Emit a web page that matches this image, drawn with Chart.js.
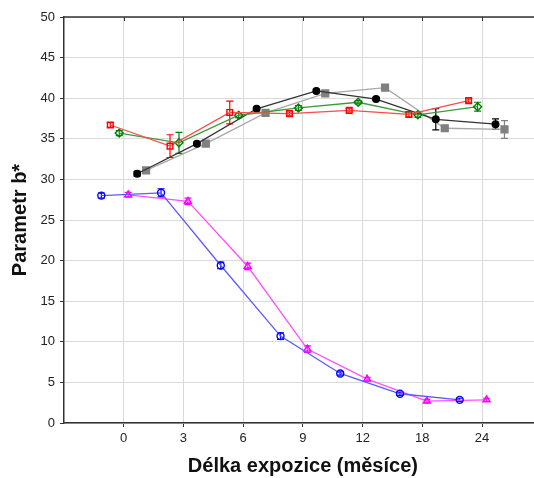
<!DOCTYPE html>
<html>
<head>
<meta charset="utf-8">
<script src="https://cdn.jsdelivr.net/npm/chart.js@4/dist/chart.umd.min.js"></script>
<style>
html,body{margin:0;padding:0;background:#fff;width:534px;height:478px;overflow:hidden;}
canvas{display:block;}
</style>
</head>
<body>
<canvas id="c" width="548" height="478"></canvas>
<script>
// ---- data ----
const categories = ['0', '3', '6', '9', '12', '18', '24'];
const yTicks = [0, 5, 10, 15, 20, 25, 30, 35, 40, 45, 50];

const blueVals    = [28.0, 28.35, 19.4, 10.7, 6.1, 3.6, 2.85];
const blueErr     = [0.3, 0.5, 0.4, 0.4, 0.2, 0.2, 0.2];
const redVals     = [36.7, 34.1, 38.25, 38.1, 38.5, 38.0, 39.7];
const redErr      = [0.3, 1.4, 1.4, 0.2, 0.2, 0.3, 0.2];
const greenVals   = [35.7, 34.5, 37.9, 38.8, 39.5, 37.95, 38.95];
const greenErr    = [0.3, 1.3, 0.3, 0.3, 0.2, 0.3, 0.55];
const magentaVals = [28.1, 27.3, 19.3, 9.1, 5.4, 2.7, 2.85];
const magentaErr  = [0.3, 0.4, 0.4, 0.4, 0.2, 0.2, 0.2];
const blackVals   = [30.7, 34.4, 38.7, 40.9, 39.9, 37.4, 36.8];
const blackErr    = [0.3, 0.2, 0.2, 0.2, 0.2, 1.3, 0.65];
const grayVals    = [31.1, 34.4, 38.2, 40.6, 41.3, 36.3, 36.15];
const grayErr     = [0.3, 0.3, 0.3, 0.3, 0.3, 0.3, 1.1];

const seriesList = [
  {vals: blueVals, err: blueErr, line: '#5a5aff', pt: '#0000ff', style: 'circle', fill: false, r: 3.5},
  {vals: redVals, err: redErr, line: '#ff4a4a', pt: '#ff0000', style: 'rect', fill: false, r: 4},
  {vals: greenVals, err: greenErr, line: '#3c9a3c', pt: '#008000', style: 'rectRot', fill: false, r: 4},
  {vals: magentaVals, err: magentaErr, line: '#ff50ff', pt: '#ff00ff', style: 'triangle', fill: false, r: 4},
  {vals: blackVals, err: blackErr, line: '#333333', pt: '#000000', style: 'circle', fill: true, r: 3.3},
  {vals: grayVals, err: grayErr, line: '#a8a8a8', pt: '#808080', style: 'rect', fill: true, r: 4.8}
];

const DODGE = 0.15;
const datasets = seriesList.map((s, k) => ({
  data: s.vals.map((v, i) => ({x: i + (k - 2.5) * DODGE, y: v})),
  errors: s.err,
  borderColor: s.line,
  borderWidth: 1.3,
  pointStyle: s.style,
  pointRadius: s.r,
  pointBorderColor: s.pt,
  pointBackgroundColor: s.fill ? s.pt : 'rgba(255,255,255,0)',
  pointBorderWidth: 1.4,
  errColor: s.pt,
  tension: 0
}));

const errorBars = {
  id: 'errorBars',
  beforeDatasetsDraw(chart) {
    const ctx = chart.ctx, ys = chart.scales.y;
    chart.data.datasets.forEach((ds, di) => {
      const meta = chart.getDatasetMeta(di);
      ctx.save();
      ctx.strokeStyle = ds.errColor;
      ctx.lineWidth = 1.2;
      meta.data.forEach((pt, i) => {
        const e = ds.errors[i];
        const v = ds.data[i].y;
        const y1 = ys.getPixelForValue(v - e), y2 = ys.getPixelForValue(v + e);
        const x = pt.x;
        ctx.beginPath();
        ctx.moveTo(x, y1); ctx.lineTo(x, y2);
        ctx.moveTo(x - 3.5, y1); ctx.lineTo(x + 3.5, y1);
        ctx.moveTo(x - 3.5, y2); ctx.lineTo(x + 3.5, y2);
        ctx.stroke();
      });
      ctx.restore();
    });
  },
  afterDraw(chart) {
    const ctx = chart.ctx, a = chart.chartArea, xs = chart.scales.x;
    ctx.save();
    ctx.strokeStyle = '#333';
    ctx.lineWidth = 1.5;
    ctx.beginPath();
    ctx.moveTo(a.left, a.top); ctx.lineTo(chart.width, a.top);
    ctx.stroke();
    ctx.lineWidth = 1;
    categories.forEach((c, i) => {
      const x = Math.round(xs.getPixelForValue(i)) + 0.5;
      ctx.beginPath(); ctx.moveTo(x, a.top); ctx.lineTo(x, a.top + 4); ctx.stroke();
    });
    ctx.restore();
  }
};

new Chart(document.getElementById('c'), {
  type: 'line',
  data: {datasets},
  plugins: [errorBars],
  options: {
    responsive: false,
    animation: false,
    devicePixelRatio: 1,
    layout: {padding: {top: 17, right: 0, left: 0, bottom: 0}},
    plugins: {legend: {display: false}, tooltip: {enabled: false}},
    scales: {
      x: {
        type: 'linear',
        min: -1,
        max: 7,
        afterBuildTicks: s => { s.ticks = categories.map((c, i) => ({value: i})); },
        afterFit: s => { s.height = 55; },
        ticks: {
          callback: v => categories[v] !== undefined ? categories[v] : '',
          color: '#222',
          font: {family: 'Liberation Sans', size: 13},
          padding: 4,
          maxRotation: 0
        },
        grid: {color: '#dadada', lineWidth: 1, tickColor: '#333', tickLength: 4},
        border: {color: '#333', width: 1.5},
        title: {
          display: true,
          text: 'Délka expozice (měsíce)',
          color: '#111',
          font: {family: 'Liberation Sans', size: 20, weight: 'bold'},
          padding: {top: 0, bottom: 0}
        }
      },
      y: {
        min: 0,
        max: 50,
        afterBuildTicks: s => { s.ticks = yTicks.map(v => ({value: v})); },
        afterFit: s => { s.width = 64; },
        ticks: {
          color: '#222',
          font: {family: 'Liberation Sans', size: 13},
          padding: 5
        },
        grid: {color: '#dadada', lineWidth: 1, tickColor: '#333', tickLength: 4},
        border: {color: '#333', width: 1.5},
        title: {
          display: true,
          text: 'Parametr b*',
          color: '#111',
          font: {family: 'Liberation Sans', size: 20, weight: 'bold'},
          padding: {top: 8, bottom: 0}
        }
      }
    }
  }
});
</script>
</body>
</html>
